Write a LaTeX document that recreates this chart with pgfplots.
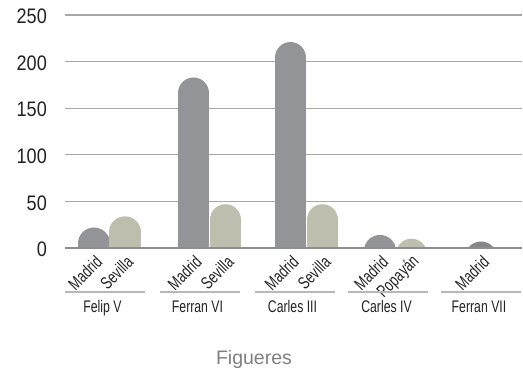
\documentclass[border=0pt]{standalone}
\usepackage{fontspec}
\setmainfont{Liberation Sans}
\newfontfamily\condfont{Liberation Sans}[FakeStretch=0.73]
\newfontfamily\numfont{Liberation Sans}[FakeStretch=0.86]
\usepackage{pgfplots}
\pgfplotsset{compat=1.18}

\definecolor{madrid}{HTML}{939498}
\definecolor{madridb}{HTML}{86878B}
\definecolor{sevilla}{HTML}{BDBEAE}
\definecolor{gridc}{HTML}{A8A8A8}
\definecolor{basec}{HTML}{8E8E8E}
\definecolor{under}{HTML}{B8B8B8}
\definecolor{titlec}{HTML}{7F7F7F}
\definecolor{txt}{HTML}{222222}

% each bar: a thick round-capped segment from below the axis up to the value,
% shifted down by the cap radius so the dome ends at the value
\pgfplotsset{roundbar/.style={no marks, line cap=round, line width=31.5pt,
  unbounded coords=jump, y filter/.expression={y-16.9}}}

\begin{document}
\begin{tikzpicture}[x=1pt,y=1pt]
\useasboundingbox (0,0) rectangle (523,-370);
\begin{axis}[
  at={(65pt,-248pt)}, anchor=south west,
  scale only axis, width=457pt, height=233pt,
  xmin=65, xmax=522, ymin=0, ymax=250,
  clip mode=individual,
  axis line style={draw=none},
  major tick length=0pt,
  ymajorgrids, grid style={gridc, line width=1.3pt},
  ytick={0,50,...,250},
  yticklabels={},
  xtick=\empty,
]
% Madrid
\addplot[roundbar, madrid] coordinates {
  (94,-60) (94,22) (94,nan)
  (193.5,-60) (193.5,183) (193.5,nan)
  (290.5,-60) (290.5,221) (290.5,nan)
  (380,-60) (380,14)
};
\addplot[roundbar, madridb] coordinates {(481,-60) (481,7)};
% Sevilla / Popayan
\addplot[roundbar, sevilla] coordinates {
  (125,-60) (125,34) (125,nan)
  (225.5,-60) (225.5,47) (225.5,nan)
  (322.5,-60) (322.5,47) (322.5,nan)
  (411.5,-60) (411.5,10)
};
\end{axis}
\draw[basec, line width=1.5pt] (65,-248) -- (522,-248);
% y tick numbers (233pt for 250 units)
\foreach \v in {0,50,100,150,200,250}
  \node[anchor=east, inner sep=0pt, text=txt,
    font=\numfont\fontsize{21}{21}\selectfont] at (47,{-249.5+0.932*\v}) {\v};
% rotated category labels, right end just under each bar
\begin{scope}[font=\condfont\fontsize{17.5}{17.5}\selectfont, text=txt]
\foreach \xc/\lab in {94/Madrid,125/Sevilla,193.5/Madrid,225.5/Sevilla,
    290.5/Madrid,322.5/Sevilla,380/Madrid,411.5/Popayán,481/Madrid}
  \node[rotate=45, anchor=east, inner sep=0pt] at (\xc+5,-259) {\lab};
\end{scope}
% group brackets
\begin{scope}[under, line width=2pt]
\draw (65,-292) -- (145,-292);
\draw (160,-292) -- (240,-292);
\draw (255,-292) -- (335,-292);
\draw (348,-292) -- (428,-292);
\draw (441,-292) -- (521,-292);
\end{scope}
\begin{scope}[font=\condfont\fontsize{16.8}{16.8}\selectfont, anchor=base, text=txt]
\node at (102.5,-312.7) {Felip V};
\node at (197.5,-312.7) {Ferran VI};
\node at (292.5,-312.7) {Carles III};
\node at (386.5,-312.7) {Carles IV};
\node at (479,-312.7) {Ferran VII};
\end{scope}
\node[anchor=base, text=titlec, font=\fontsize{19.5}{19.5}\selectfont] at (254,-364) {Figueres};
\end{tikzpicture}
\end{document}
